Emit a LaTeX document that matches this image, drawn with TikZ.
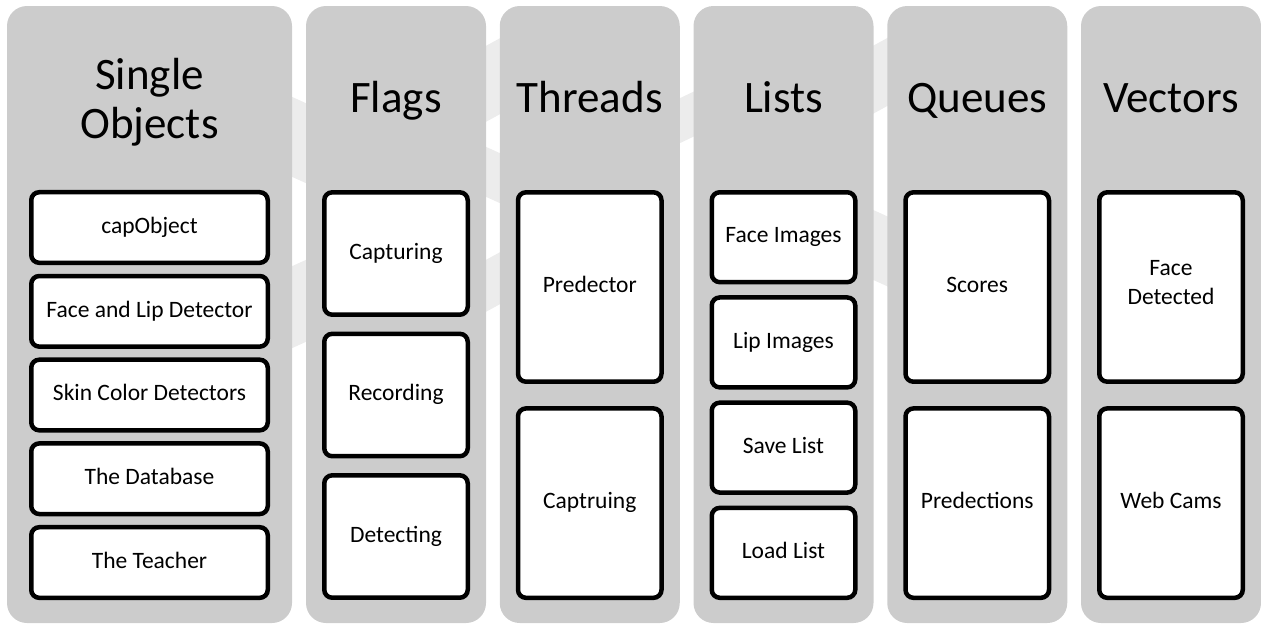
\documentclass[tikz,border=0pt]{standalone}
\usepackage{fontspec}
\setmainfont{Carlito}
\definecolor{colfill}{RGB}{204,204,204}
\definecolor{bandfill}{RGB}{236,236,236}
\tikzset{
  column/.style={fill=colfill, draw=none, rounded corners=20pt, inner sep=0pt,
    minimum width=#1, minimum height=617pt},
  coltitle/.style={inner sep=0pt, align=center, font=\fontsize{45}{49}\selectfont},
  itembox/.style={draw=black, line width=4.5pt, fill=white, rounded corners=8pt,
    inner sep=0pt, align=center, font=\fontsize{23.5}{28.7}\selectfont,
    execute at begin node=\strut, execute at end node=\strut},
  band/.style={fill=bandfill, draw=none}
}
\begin{document}
\begin{tikzpicture}[x=1pt, y=-1pt]
\useasboundingbox (0,0) rectangle (1261,625);

% faint background arrow, visible only between the columns
\fill[band] (288,95) -- (310,105) -- (310,185) -- (288,175) -- cycle;
\fill[band] (288,268) -- (310,258) -- (310,340) -- (288,350) -- cycle;
\fill[band] (482,48) -- (504,36) -- (504,112) -- (482,124) -- cycle;
\fill[band] (482,145) -- (504,155) -- (504,205) -- (482,195) -- cycle;
\fill[band] (482,262) -- (504,250) -- (504,302) -- (482,314) -- cycle;
\fill[band] (676,100) -- (697,90) -- (697,135) -- (676,145) -- cycle;
\fill[band] (869,48) -- (891,36) -- (891,104) -- (869,116) -- cycle;
\fill[band] (869,208) -- (891,218) -- (891,288) -- (869,278) -- cycle;

% gray columns
\node[column=285pt] (c1) at (149.5,314.5) {};
\node[column=180pt] (c2) at (396,314.5) {};
\node[column=180pt] (c3) at (589.75,314.5) {};
\node[column=180pt] (c4) at (783.5,314.5) {};
\node[column=180pt] (c5) at (977.25,314.5) {};
\node[column=180pt] (c6) at (1171,314.5) {};

% column titles
\node[coltitle] (t1) at (149.5,102) {Single\\Objects};
\node[coltitle, anchor=base] (t2) at (396,112) {Flags};
\node[coltitle, anchor=base] (t3) at (589.75,112) {Threads};
\node[coltitle, anchor=base] (t4) at (783.5,112) {Lists};
\node[coltitle, anchor=base] (t5) at (977.25,112) {Queues};
\node[coltitle, anchor=base] (t6) at (1171,112) {Vectors};

% Single Objects
\begin{scope}[every node/.style={itembox, minimum width=236.5pt, minimum height=70.6pt}]
\node (s1) at (149.5,227.5) {capObject};
\node (s2) at (149.5,311.3) {Face and Lip Detector};
\node (s3) at (149.5,395.0) {Skin Color Detectors};
\node (s4) at (149.5,478.7) {The Database};
\node (s5) at (149.5,562.5) {The Teacher};
\end{scope}

% Flags
\begin{scope}[every node/.style={itembox, minimum width=143.5pt, minimum height=122.4pt}]
\node (f1) at (396,253.5) {Capturing};
\node (f2) at (396,395.0) {Recording};
\node (f3) at (396,536.5) {Detecting};
\end{scope}

% Threads, Queues, Vectors
\begin{scope}[every node/.style={itembox, minimum width=143.5pt, minimum height=189.4pt}]
\node (h1) at (589.75,287.0) {Predector};
\node (h2) at (589.75,503.1) {Captruing};
\node (q1) at (977.25,287.0) {Scores};
\node (q2) at (977.25,503.1) {Predections};
\node (v1) at (1171,287.0) {Face\\Detected};
\node (v2) at (1171,503.1) {Web Cams};
\end{scope}

% Lists
\begin{scope}[every node/.style={itembox, minimum width=143.5pt, minimum height=89.9pt}]
\node (l1) at (783.5,237.2) {Face Images};
\node (l2) at (783.5,342.4) {Lip Images};
\node (l3) at (783.5,447.6) {Save List};
\node (l4) at (783.5,552.8) {Load List};
\end{scope}
\end{tikzpicture}
\end{document}
